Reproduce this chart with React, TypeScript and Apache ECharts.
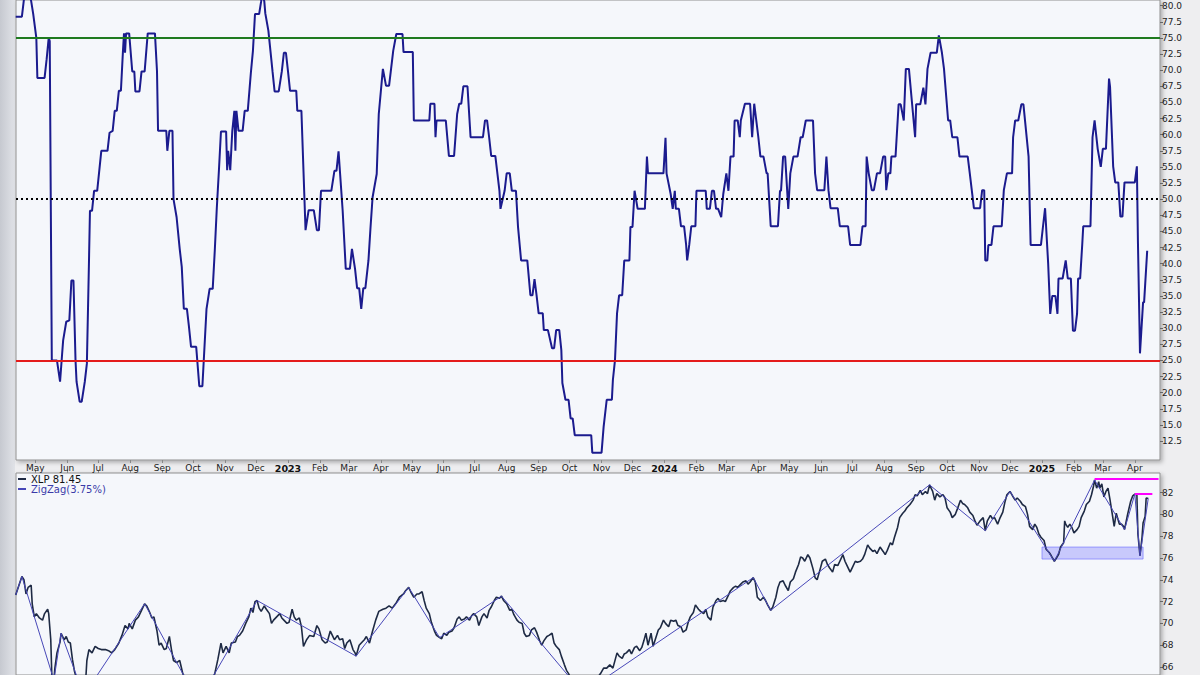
import React, { useEffect, useRef } from 'react';
import * as echarts from 'echarts';

// ---------- Top panel: breadth oscillator (percent) ----------
const breadth2022: [string, number][] = [
  ['2022-04-12',78.3],['2022-04-18',78.3],['2022-04-20',81],['2022-04-24',83],['2022-04-27',80.7],['2022-04-29',78.7],['2022-05-02',75],['2022-05-03',68.8],['2022-05-10',68.8],['2022-05-12',71.7],['2022-05-14',75],['2022-05-15',74.5],['2022-05-17',25],['2022-05-22',25],['2022-05-25',21.7],['2022-05-27',26],['2022-05-28',28.1],['2022-05-31',31],['2022-06-03',31.2],['2022-06-05',37.4],['2022-06-07',37.4],['2022-06-09',25],['2022-06-10',21.7],['2022-06-13',18.6],['2022-06-15',18.6],['2022-06-18',21.7],['2022-06-20',24.5],['2022-06-22',40],['2022-06-23',48.2],['2022-06-25',48.2],['2022-06-27',51.3],['2022-06-30',51.3],['2022-07-02',54.4],['2022-07-04',57.5],['2022-07-10',57.5],['2022-07-12',60.3],['2022-07-15',60.6],['2022-07-17',63.7],['2022-07-19',63.7],['2022-07-21',66.8],['2022-07-23',66.8],['2022-07-25',73],['2022-07-26',75.7],['2022-07-27',72.7],['2022-07-28',75.7],['2022-07-31',75.7],['2022-08-03',69.8],['2022-08-05',69.8],['2022-08-06',66.7],['2022-08-10',66.7],['2022-08-12',69.8],['2022-08-15',69.8],['2022-08-18',75.7],['2022-08-25',75.7],['2022-08-27',69.8],['2022-08-28',60.6],['2022-09-05',60.6],['2022-09-06',57.5],['2022-09-08',60.6],['2022-09-11',60.6],['2022-09-12',50],['2022-09-15',47.2],['2022-09-18',42.3],['2022-09-20',39.5],['2022-09-22',33],['2022-09-25',33],['2022-09-27',30.2],['2022-09-29',27.1],['2022-10-04',27.1],['2022-10-07',21],['2022-10-10',21],['2022-10-14',33],['2022-10-17',36.1],['2022-10-20',36.1],['2022-10-22',42],['2022-10-24',48.7],['2022-10-26',54.4],['2022-10-28',60.5],['2022-11-02',60.5],['2022-11-03',54.5],['2022-11-04',57.5],['2022-11-06',54.5],['2022-11-08',60.6],['2022-11-10',63.7],['2022-11-11',57.5],['2022-11-12',63.7],['2022-11-14',60.6],['2022-11-18',60.6],['2022-11-20',63.7],['2022-11-23',63.7],['2022-11-26',69.6],['2022-11-28',73],['2022-11-30',78.7],['2022-12-04',78.7],['2022-12-06',80.7],['2022-12-07',82],['2022-12-09',80.7],['2022-12-10',78.8],['2022-12-13',76.1],['2022-12-17',69.8],['2022-12-19',66.7],['2022-12-23',66.7],['2022-12-26',69.8],['2022-12-28',72.7],['2022-12-30',72.7]
];
const breadth2023: [string, number][] = [
  ['2023-01-01',69.8],['2023-01-03',66.8],['2023-01-09',66.8],['2023-01-10',63.7],['2023-01-14',63.7],['2023-01-17',49.8],['2023-01-18',45.2],['2023-01-21',48.3],['2023-01-26',48.3],['2023-01-29',45.2],['2023-01-31',45.2],['2023-02-02',51.3],['2023-02-12',51.3],['2023-02-15',54.4],['2023-02-17',54.4],['2023-02-19',57.4],['2023-02-23',48.2],['2023-02-26',39.2],['2023-03-02',39.2],['2023-03-04',42.3],['2023-03-07',39.2],['2023-03-09',36.2],['2023-03-11',36.2],['2023-03-13',33],['2023-03-15',36.2],['2023-03-17',36.2],['2023-03-20',40.5],['2023-03-22',45.6],['2023-03-24',50.3],['2023-03-28',53.9],['2023-03-30',63.2],['2023-04-03',70.2],['2023-04-06',67.6],['2023-04-09',67.6],['2023-04-13',73],['2023-04-16',75.6],['2023-04-22',75.6],['2023-04-23',72.8],['2023-05-02',72.8],['2023-05-03',62.2],['2023-05-18',62.2],['2023-05-19',64.8],['2023-05-23',64.8],['2023-05-24',59.6],['2023-05-25',62.2],['2023-06-03',62.2],['2023-06-06',56.7],['2023-06-11',56.7],['2023-06-14',63.2],['2023-06-16',64.8],['2023-06-18',64.8],['2023-06-20',67.5],['2023-06-24',67.5],['2023-06-27',59.6],['2023-07-09',59.6],['2023-07-11',62.2],['2023-07-13',62.2],['2023-07-15',59.6],['2023-07-17',56.7],['2023-07-21',56.7],['2023-07-23',54],['2023-07-25',51.3],['2023-07-26',48.5],['2023-07-30',51.3],['2023-08-01',54],['2023-08-04',54],['2023-08-06',51.3],['2023-08-10',51.3],['2023-08-12',45.7],['2023-08-15',40.5],['2023-08-21',40.5],['2023-08-24',35.1],['2023-08-26',35.1],['2023-08-28',37.6],['2023-08-30',35.1],['2023-09-01',32.3],['2023-09-05',32.3],['2023-09-06',29.7],['2023-09-10',29.7],['2023-09-14',26.9],['2023-09-16',26.9],['2023-09-18',29.7],['2023-09-21',29.7],['2023-09-23',26.6],['2023-09-24',21.5],['2023-09-27',18.9],['2023-09-30',18.9],['2023-10-02',16],['2023-10-04',16],['2023-10-06',13.4],['2023-10-22',13.4],['2023-10-23',10.7],['2023-11-01',10.7],['2023-11-03',14.7],['2023-11-06',18.9],['2023-11-11',18.9],['2023-11-12',22],['2023-11-14',25],['2023-11-16',32.3],['2023-11-18',35.1],['2023-11-21',35.1],['2023-11-23',40.5],['2023-11-28',40.5],['2023-11-29',45.7],['2023-12-01',45.7],['2023-12-03',51.3],['2023-12-06',48.5],['2023-12-13',48.5],['2023-12-15',56.6],['2023-12-16',54],['2023-12-31',54]
];
const breadth2024: [string, number][] = [
  ['2024-01-02',59.5],['2024-01-03',54],['2024-01-07',50.8],['2024-01-09',48.5],['2024-01-11',51.3],['2024-01-12',48.5],['2024-01-15',48.5],['2024-01-17',45.8],['2024-01-20',45.8],['2024-01-22',42.9],['2024-01-23',40.5],['2024-01-25',42.9],['2024-01-27',45.8],['2024-01-31',45.8],['2024-02-01',51.3],['2024-02-10',51.3],['2024-02-11',48.5],['2024-02-14',48.5],['2024-02-16',51.3],['2024-02-18',51.3],['2024-02-20',48.5],['2024-02-22',48.5],['2024-02-25',47.2],['2024-02-27',50.8],['2024-03-01',54],['2024-03-03',51.3],['2024-03-05',56.6],['2024-03-08',56.6],['2024-03-09',62.2],['2024-03-12',62.2],['2024-03-14',59.6],['2024-03-15',62.2],['2024-03-19',64.8],['2024-03-24',64.8],['2024-03-26',59.6],['2024-03-28',64.8],['2024-04-01',59.6],['2024-04-03',56.6],['2024-04-06',56.6],['2024-04-09',54],['2024-04-10',54],['2024-04-13',45.8],['2024-04-20',45.8],['2024-04-22',51.3],['2024-04-23',51.3],['2024-04-25',56.6],['2024-04-27',56.6],['2024-04-30',48.5],['2024-05-02',54],['2024-05-05',56.6],['2024-05-09',56.6],['2024-05-12',59.6],['2024-05-14',59.6],['2024-05-17',62.2],['2024-05-24',62.2],['2024-05-26',54],['2024-05-28',51.4],['2024-06-04',51.4],['2024-06-06',56.6],['2024-06-08',51.4],['2024-06-10',48.6],['2024-06-17',48.6],['2024-06-19',45.8],['2024-06-27',45.8],['2024-06-29',42.9],['2024-07-09',42.9],['2024-07-11',45.8],['2024-07-14',45.8],['2024-07-15',56.6],['2024-07-17',54],['2024-07-20',51.4],['2024-07-22',51.4],['2024-07-25',54],['2024-07-28',54],['2024-07-31',56.6],['2024-08-02',56.6],['2024-08-03',51.4],['2024-08-05',54],['2024-08-07',54],['2024-08-08',56.6],['2024-08-12',56.6],['2024-08-15',64.7],['2024-08-17',64.7],['2024-08-20',62.2],['2024-08-22',70.2],['2024-08-25',70.2],['2024-08-31',59.6],['2024-09-01',64.7],['2024-09-05',64.7],['2024-09-08',67.3],['2024-09-10',64.7],['2024-09-12',70.2],['2024-09-15',72.7],['2024-09-21',72.7],['2024-09-23',75.4],['2024-09-26',72.7],['2024-09-28',70.2],['2024-10-02',62.2],['2024-10-04',62.2],['2024-10-06',59.6],['2024-10-11',59.6],['2024-10-13',56.6],['2024-10-21',56.6],['2024-10-23',54],['2024-10-27',48.6],['2024-11-02',48.6],['2024-11-04',51.4],['2024-11-06',51.4],['2024-11-07',40.5],['2024-11-09',40.5],['2024-11-10',42.9],['2024-11-13',42.9],['2024-11-15',45.8],['2024-11-23',45.8],['2024-11-25',51.4],['2024-11-28',54],['2024-12-03',54],['2024-12-04',59.6],['2024-12-06',62.2],['2024-12-09',62.2],['2024-12-12',64.7],['2024-12-14',64.7],['2024-12-19',56.6],['2024-12-21',42.9],['2024-12-31',42.9]
];
const breadth2025: [string, number][] = [
  ['2025-01-02',45.8],['2025-01-04',48.6],['2025-01-07',40],['2025-01-09',32.2],['2025-01-11',35],['2025-01-14',35],['2025-01-16',32.2],['2025-01-17',37.7],['2025-01-21',37.7],['2025-01-24',40.5],['2025-01-26',37.7],['2025-01-29',37.7],['2025-01-31',29.6],['2025-02-02',29.6],['2025-02-04',32.2],['2025-02-05',37.7],['2025-02-07',37.7],['2025-02-09',42.9],['2025-02-10',45.8],['2025-02-17',45.8],['2025-02-19',59.6],['2025-02-21',62.2],['2025-02-24',57.8],['2025-02-27',55],['2025-03-01',57.8],['2025-03-04',57.8],['2025-03-07',68.7],['2025-03-08',67.4],['2025-03-11',55.1],['2025-03-13',52.6],['2025-03-16',52.6],['2025-03-18',47.3],['2025-03-20',47.3],['2025-03-22',52.6],['2025-04-01',52.6],['2025-04-03',55.1],['2025-04-04',43.6],['2025-04-06',26.1],['2025-04-09',34],['2025-04-10',34],['2025-04-13',42]
];
const breadthLevels = { overbought: 75, middle: 50, oversold: 25 };
const breadthTicks = [12.5, 15, 17.5, 20, 22.5, 25, 27.5, 30, 32.5, 35, 37.5, 40, 42.5, 45, 47.5, 50, 52.5, 55, 57.5, 60, 62.5, 65, 67.5, 70, 72.5, 75, 77.5, 80];

// ---------- Bottom panel: XLP price ----------
const xlp2022: [string, number][] = [
  ['2022-04-12',72.6],['2022-04-18',74.3],['2022-04-20',74.0],['2022-04-22',72.7],['2022-04-24',73.3],['2022-04-27',73.5],['2022-04-28',71.8],['2022-04-30',70.6],['2022-05-02',70.9],['2022-05-05',70.5],['2022-05-08',70.3],['2022-05-10',70.9],['2022-05-13',71.3],['2022-05-14',70.9],['2022-05-16',68.5],['2022-05-17',65.3],['2022-05-19',64.8],['2022-05-20',65.9],['2022-05-22',67.3],['2022-05-25',68.3],['2022-05-26',69.1],['2022-05-29',68.5],['2022-05-31',68.8],['2022-06-02',68.3],['2022-06-04',68.2],['2022-06-06',66.7],['2022-06-08',65.6],['2022-06-11',64.6],['2022-06-13',63.9],['2022-06-17',63.4],['2022-06-19',65.0],['2022-06-20',66.6],['2022-06-22',67.6],['2022-06-25',67.3],['2022-06-28',67.9],['2022-07-01',67.7],['2022-07-04',67.6],['2022-07-08',67.6],['2022-07-11',67.5],['2022-07-14',67.3],['2022-07-17',67.6],['2022-07-21',68.2],['2022-07-24',68.9],['2022-07-27',69.8],['2022-07-30',69.5],['2022-07-31',70.0],['2022-08-03',69.5],['2022-08-06',70.3],['2022-08-09',70.6],['2022-08-12',71.2],['2022-08-14',71.6],['2022-08-15',71.8],['2022-08-17',71.6],['2022-08-20',71.0],['2022-08-22',70.5],['2022-08-24',70.6],['2022-08-27',69.3],['2022-08-29',68.0],['2022-08-31',68.2],['2022-09-03',67.6],['2022-09-05',67.7],['2022-09-08',68.8],['2022-09-10',67.6],['2022-09-12',66.6],['2022-09-15',66.4],['2022-09-18',66.6],['2022-09-20',65.8],['2022-09-21',65.4],['2022-09-26',64.5],['2022-09-30',63.3],['2022-10-06',62.8],['2022-10-13',63.0],['2022-10-17',64.2],['2022-10-22',65.4],['2022-10-25',66.7],['2022-10-28',68.2],['2022-10-30',67.3],['2022-11-02',67.9],['2022-11-05',67.3],['2022-11-07',68.2],['2022-11-11',68.3],['2022-11-13',68.8],['2022-11-15',68.9],['2022-11-18',69.3],['2022-11-21',70.0],['2022-11-24',70.6],['2022-11-26',71.4],['2022-11-28',71.0],['2022-11-30',72.0],['2022-12-02',72.1],['2022-12-04',71.4],['2022-12-06',71.1],['2022-12-09',71.6],['2022-12-11',71.3],['2022-12-14',70.9],['2022-12-16',70.0],['2022-12-18',70.3],['2022-12-21',70.6],['2022-12-24',70.9],['2022-12-26',70.5],['2022-12-28',70.3],['2022-12-31',70.0]
];
const xlp2023: [string, number][] = [
  ['2023-01-02',70.1],['2023-01-05',71.3],['2023-01-07',70.6],['2023-01-09',70.3],['2023-01-12',70.5],['2023-01-14',69.7],['2023-01-16',67.9],['2023-01-19',68.5],['2023-01-22',68.9],['2023-01-26',68.8],['2023-01-29',69.8],['2023-01-31',69.5],['2023-02-03',68.5],['2023-02-06',68.2],['2023-02-08',68.3],['2023-02-11',69.3],['2023-02-13',68.9],['2023-02-15',68.5],['2023-02-18',68.9],['2023-02-20',68.5],['2023-02-23',68.6],['2023-02-25',67.7],['2023-02-27',68.2],['2023-03-02',68.5],['2023-03-05',67.6],['2023-03-07',67.3],['2023-03-08',67.0],['2023-03-11',68.0],['2023-03-13',68.2],['2023-03-16',68.5],['2023-03-18',68.8],['2023-03-21',68.2],['2023-03-24',69.3],['2023-03-27',70.3],['2023-03-30',71.1],['2023-04-03',71.3],['2023-04-06',71.4],['2023-04-09',71.6],['2023-04-12',71.4],['2023-04-16',71.9],['2023-04-19',72.4],['2023-04-23',72.7],['2023-04-25',73.0],['2023-04-28',73.3],['2023-04-30',72.9],['2023-05-03',72.4],['2023-05-06',72.7],['2023-05-08',72.7],['2023-05-11',72.9],['2023-05-13',72.1],['2023-05-15',71.4],['2023-05-18',70.9],['2023-05-20',70.1],['2023-05-23',69.3],['2023-05-25',68.9],['2023-05-28',68.7],['2023-05-30',68.6],['2023-06-01',69.1],['2023-06-04',68.9],['2023-06-06',69.2],['2023-06-09',69.3],['2023-06-11',69.6],['2023-06-14',70.4],['2023-06-16',70.6],['2023-06-18',70.3],['2023-06-21',70.4],['2023-06-23',70.6],['2023-06-26',70.3],['2023-06-28',70.7],['2023-06-30',70.9],['2023-07-03',70.6],['2023-07-05',69.8],['2023-07-08',70.6],['2023-07-10',70.9],['2023-07-13',70.5],['2023-07-15',71.2],['2023-07-17',71.5],['2023-07-20',72.1],['2023-07-22',72.4],['2023-07-25',72.3],['2023-07-27',72.5],['2023-07-29',72.1],['2023-08-01',71.8],['2023-08-04',71.2],['2023-08-06',71.3],['2023-08-08',70.8],['2023-08-11',70.3],['2023-08-13',70.1],['2023-08-16',70.0],['2023-08-18',69.1],['2023-08-20',68.8],['2023-08-23',68.9],['2023-08-25',69.4],['2023-08-28',69.6],['2023-08-30',69.2],['2023-09-02',68.4],['2023-09-04',68.0],['2023-09-06',68.4],['2023-09-09',68.8],['2023-09-11',68.9],['2023-09-14',69.1],['2023-09-16',68.2],['2023-09-18',67.9],['2023-09-21',67.6],['2023-09-23',67.0],['2023-09-26',66.2],['2023-09-28',65.7],['2023-09-30',65.4],['2023-10-05',64.4],['2023-10-14',63.6],['2023-10-20',64.3],['2023-10-26',64.8],['2023-10-31',65.4],['2023-11-03',65.9],['2023-11-06',65.9],['2023-11-09',66.2],['2023-11-12',65.9],['2023-11-16',67.3],['2023-11-18',67.0],['2023-11-21',66.8],['2023-11-23',67.2],['2023-11-25',67.3],['2023-11-28',67.6],['2023-11-30',67.2],['2023-12-03',67.8],['2023-12-05',67.9],['2023-12-08',67.5],['2023-12-10',67.8],['2023-12-12',68.4],['2023-12-14',69.1],['2023-12-16',68.0],['2023-12-19',69.1],['2023-12-21',67.9],['2023-12-24',68.8],['2023-12-26',69.4],['2023-12-28',69.6],['2023-12-31',70.3]
];
const xlp2024: [string, number][] = [
  ['2024-01-02',70.0],['2024-01-05',69.7],['2024-01-07',70.3],['2024-01-10',70.2],['2024-01-12',70.3],['2024-01-14',69.8],['2024-01-17',69.7],['2024-01-19',69.2],['2024-01-22',69.4],['2024-01-24',70.1],['2024-01-26',70.6],['2024-01-29',71.0],['2024-01-31',71.7],['2024-02-03',71.3],['2024-02-05',71.1],['2024-02-08',70.9],['2024-02-10',71.3],['2024-02-12',70.6],['2024-02-15',70.3],['2024-02-17',71.5],['2024-02-20',72.1],['2024-02-22',72.3],['2024-02-24',72.0],['2024-02-27',72.1],['2024-02-29',72.0],['2024-03-03',72.6],['2024-03-05',73.0],['2024-03-08',73.3],['2024-03-10',73.4],['2024-03-12',73.3],['2024-03-15',73.6],['2024-03-17',73.8],['2024-03-20',73.9],['2024-03-22',73.6],['2024-03-24',73.8],['2024-03-27',74.2],['2024-03-29',73.8],['2024-03-31',72.4],['2024-04-03',72.1],['2024-04-06',72.4],['2024-04-08',72.1],['2024-04-10',71.7],['2024-04-13',71.2],['2024-04-15',71.5],['2024-04-18',72.4],['2024-04-20',73.3],['2024-04-22',73.8],['2024-04-25',73.9],['2024-04-27',73.5],['2024-04-30',73.0],['2024-05-02',73.8],['2024-05-05',74.1],['2024-05-07',74.7],['2024-05-10',75.4],['2024-05-12',76.1],['2024-05-14',76.0],['2024-05-16',75.7],['2024-05-19',76.3],['2024-05-21',76.0],['2024-05-24',75.0],['2024-05-26',74.2],['2024-05-28',74.0],['2024-05-31',75.0],['2024-06-02',75.7],['2024-06-05',75.9],['2024-06-07',75.4],['2024-06-09',75.1],['2024-06-12',74.7],['2024-06-14',75.4],['2024-06-17',75.3],['2024-06-19',75.7],['2024-06-22',76.3],['2024-06-24',75.7],['2024-06-26',75.3],['2024-06-29',74.7],['2024-07-01',75.1],['2024-07-04',75.7],['2024-07-06',75.6],['2024-07-09',75.7],['2024-07-11',75.9],['2024-07-13',76.3],['2024-07-16',77.2],['2024-07-18',76.9],['2024-07-21',76.6],['2024-07-23',76.7],['2024-07-25',76.4],['2024-07-28',77.0],['2024-07-31',76.6],['2024-08-02',76.3],['2024-08-04',76.7],['2024-08-07',77.4],['2024-08-09',77.2],['2024-08-11',77.9],['2024-08-14',78.8],['2024-08-16',79.7],['2024-08-19',80.1],['2024-08-21',80.3],['2024-08-23',80.6],['2024-08-26',80.9],['2024-08-29',81.3],['2024-08-31',81.8],['2024-09-02',81.7],['2024-09-05',82.2],['2024-09-07',81.8],['2024-09-10',82.1],['2024-09-12',81.9],['2024-09-14',82.7],['2024-09-17',82.1],['2024-09-19',81.3],['2024-09-21',81.9],['2024-09-24',81.6],['2024-09-27',81.8],['2024-09-29',81.5],['2024-10-01',80.6],['2024-10-04',80.2],['2024-10-06',79.7],['2024-10-09',80.0],['2024-10-11',80.5],['2024-10-14',81.3],['2024-10-16',81.0],['2024-10-18',80.9],['2024-10-21',80.6],['2024-10-23',80.2],['2024-10-26',79.9],['2024-10-28',79.4],['2024-10-30',79.0],['2024-11-02',79.4],['2024-11-05',79.7],['2024-11-07',78.5],['2024-11-09',79.4],['2024-11-12',79.9],['2024-11-14',79.6],['2024-11-16',79.7],['2024-11-19',79.1],['2024-11-21',79.6],['2024-11-24',80.2],['2024-11-26',81.1],['2024-11-28',81.8],['2024-12-01',82.1],['2024-12-04',81.6],['2024-12-06',81.3],['2024-12-08',81.5],['2024-12-11',81.2],['2024-12-13',80.9],['2024-12-16',80.7],['2024-12-18',80.0],['2024-12-20',78.9],['2024-12-23',78.6],['2024-12-25',79.1],['2024-12-27',78.8],['2024-12-29',78.2],['2024-12-31',77.9]
];
const xlp2025: [string, number][] = [
  ['2025-01-03',77.6],['2025-01-05',76.8],['2025-01-08',76.5],['2025-01-10',76.2],['2025-01-13',75.7],['2025-01-15',76.0],['2025-01-17',76.3],['2025-01-19',77.0],['2025-01-22',77.4],['2025-01-23',79.4],['2025-01-24',79.1],['2025-01-26',78.8],['2025-01-28',79.1],['2025-01-30',78.8],['2025-02-01',78.3],['2025-02-04',78.6],['2025-02-06',78.9],['2025-02-08',79.7],['2025-02-11',80.3],['2025-02-13',80.9],['2025-02-16',81.2],['2025-02-18',81.8],['2025-02-20',82.6],['2025-02-21',83.15],['2025-02-23',82.4],['2025-02-25',83.0],['2025-02-26',82.4],['2025-02-28',82.8],['2025-03-02',81.6],['2025-03-04',82.1],['2025-03-06',82.4],['2025-03-08',81.3],['2025-03-10',80.1],['2025-03-12',78.9],['2025-03-14',80.1],['2025-03-17',79.1],['2025-03-19',79.1],['2025-03-21',78.9],['2025-03-22',78.6],['2025-03-25',80.0],['2025-03-28',81.2],['2025-03-30',81.7],['2025-04-01',81.85],['2025-04-03',81.8],['2025-04-04',78.2],['2025-04-06',76.2],['2025-04-08',77.9],['2025-04-09',79.2],['2025-04-11',79.8],['2025-04-12',81.5],['2025-04-14',81.45]
];
const zigzagPivots: [string, number][] = [
  ['2022-04-12',72.6],['2022-04-18',74.3],['2022-05-19',64.8],['2022-05-26',69.1],['2022-06-17',63.4],['2022-08-15',71.8],['2022-10-06',62.8],['2022-12-02',72.1],['2023-03-08',67.0],['2023-04-28',73.3],['2023-05-28',68.7],['2023-07-27',72.5],['2023-10-14',63.6],['2024-03-27',74.2],['2024-04-13',71.2],['2024-09-14',82.7],['2024-11-07',78.5],['2024-12-01',82.1],['2025-01-13',75.7],['2025-02-21',83.15],['2025-03-22',78.6],['2025-04-01',81.85],['2025-04-06',76.2],['2025-04-14',81.45]
];
const resistanceLines = [
  { from: '2025-02-21', to: '2025-04-24', value: 83.3 },
  { from: '2025-04-01', to: '2025-04-18', value: 81.9 }
];
const supportZone = { from: '2025-01-01', to: '2025-04-09', low: 75.9, high: 77.0 };
const priceTicks = [66, 68, 70, 72, 74, 76, 78, 80, 82];
const monthNames = ['Jan', 'Feb', 'Mar', 'Apr', 'May', 'Jun', 'Jul', 'Aug', 'Sep', 'Oct', 'Nov', 'Dec'];
const zigzagLabel = 'ZigZag(3.75%)';

const ts = (s: string) => new Date(s + 'T00:00:00').getTime();
const toSeries = (rows: [string, number][]) => rows.map(([d, v]) => [ts(d), v]);

const FONT = 'DejaVu Sans';

export default function App() {
  const ref = useRef<HTMLDivElement>(null);
  useEffect(() => {
    document.body.style.margin = '0';
    if (!ref.current) return;
    const chart = echarts.init(ref.current, undefined, { renderer: 'svg' });

    const axisMin = new Date(2022, 3, 12, 7).getTime();
    const axisMax = new Date(2025, 3, 25, 10).getTime();
    const monthTicks: number[] = [];
    for (let y = 2022; y <= 2025; y++) {
      for (let m = 0; m < 12; m++) {
        const t = new Date(y, m, 1).getTime();
        if (t >= axisMin && t <= axisMax) monthTicks.push(t);
      }
    }
    const breadth = [...breadth2022, ...breadth2023, ...breadth2024, ...breadth2025];
    const xlp = [...xlp2022, ...xlp2023, ...xlp2024, ...xlp2025];
    const lastPrice = xlp[xlp.length - 1][1];

    const monthFormatter = (v: number) => {
      const d = new Date(v);
      return d.getMonth() === 0 ? `{y|${d.getFullYear()}}` : monthNames[d.getMonth()];
    };

    const gridBase = {
      show: true,
      backgroundColor: '#f5f7fb',
      borderColor: '#8f8f8f',
      borderWidth: 1,
      shadowColor: 'rgba(0,0,0,0.28)',
      shadowBlur: 4,
      shadowOffsetX: 2,
      shadowOffsetY: 2,
      left: 16,
      right: 40
    };

    chart.setOption({
      animation: false,
      textStyle: { fontFamily: FONT },
      grid: [
        { ...gridBase, top: -1, height: 461 },
        { ...gridBase, top: 473, height: 204 }
      ],
      legend: {
        left: 18,
        top: 474,
        orient: 'vertical',
        itemWidth: 8,
        itemHeight: 2,
        itemGap: 0,
        padding: 0,
        selectedMode: false,
        icon: 'rect',
        textStyle: { fontSize: 10, fontFamily: FONT },
        data: [
          { name: 'XLP', textStyle: { color: '#111' } },
          { name: 'ZigZag', textStyle: { color: '#3a3aa8' } }
        ],
        formatter: (name: string) => (name === 'XLP' ? `XLP ${lastPrice.toFixed(2)}` : zigzagLabel)
      },
      xAxis: [
        {
          type: 'value', gridIndex: 0, min: axisMin, max: axisMax, position: 'bottom', scale: true,
          axisLine: { show: false },
          splitLine: { show: false },
          axisTick: { show: true, customValues: monthTicks, length: 3, lineStyle: { color: '#888' } },
          axisLabel: {
            customValues: monthTicks, formatter: monthFormatter, margin: 3,
            fontSize: 9, color: '#222', fontFamily: FONT,
            rich: { y: { fontWeight: 'bold', fontSize: 9.5, color: '#111', fontFamily: FONT } }
          }
        },
        {
          type: 'value', gridIndex: 1, min: axisMin, max: axisMax, position: 'top', scale: true,
          axisLine: { show: false },
          splitLine: { show: false },
          axisTick: { show: true, customValues: monthTicks, length: 3, lineStyle: { color: '#888' } },
          axisLabel: { show: false }
        }
      ],
      yAxis: [
        {
          type: 'value', gridIndex: 0, position: 'right', min: 9.56, max: 80.88,
          axisLine: { show: false },
          splitLine: { show: false },
          axisTick: { show: true, customValues: breadthTicks, length: 3, lineStyle: { color: '#666' } },
          axisLabel: {
            customValues: breadthTicks, formatter: (v: number) => v.toFixed(1),
            margin: 2, fontSize: 9, color: '#222', fontFamily: FONT
          }
        },
        {
          type: 'value', gridIndex: 1, position: 'right', min: 65.27, max: 83.79,
          axisLine: { show: false },
          splitLine: { show: false },
          axisTick: { show: true, customValues: priceTicks, length: 3, lineStyle: { color: '#666' } },
          axisLabel: {
            customValues: priceTicks, formatter: (v: number) => String(v),
            margin: 2, fontSize: 9, color: '#222', fontFamily: FONT
          }
        }
      ],
      series: [
        {
          name: 'Breadth', type: 'line', xAxisIndex: 0, yAxisIndex: 0,
          data: toSeries(breadth), showSymbol: false, symbol: 'none', clip: true, z: 3,
          lineStyle: { color: '#1b1b8e', width: 2 },
          markLine: {
            silent: true, symbol: ['none', 'none'], label: { show: false }, animation: false,
            data: [
              { yAxis: breadthLevels.overbought, lineStyle: { color: '#1f7a1f', width: 2, type: 'solid' } },
              { yAxis: breadthLevels.middle, lineStyle: { color: '#000', width: 2, type: [2, 3] } },
              { yAxis: breadthLevels.oversold, lineStyle: { color: '#e41b1b', width: 2, type: 'solid' } }
            ]
          }
        },
        {
          name: 'XLP', type: 'line', xAxisIndex: 1, yAxisIndex: 1,
          data: toSeries(xlp), showSymbol: false, symbol: 'none', clip: true, z: 3,
          itemStyle: { color: '#1e2a44' },
          lineStyle: { color: '#1e2a44', width: 1.6 },
          markArea: {
            silent: true,
            itemStyle: { color: 'rgba(105,105,255,0.32)', borderColor: 'rgba(105,105,255,0.6)', borderWidth: 1 },
            data: [[
              { coord: [ts(supportZone.from), supportZone.high] },
              { coord: [ts(supportZone.to), supportZone.low] }
            ]]
          },
          markLine: {
            silent: true, symbol: ['none', 'none'], label: { show: false }, animation: false,
            lineStyle: { color: '#ff00ff', width: 2, type: 'solid' },
            data: resistanceLines.map((r) => [
              { coord: [ts(r.from), r.value] },
              { coord: [ts(r.to), r.value] }
            ])
          }
        },
        {
          name: 'ZigZag', type: 'line', xAxisIndex: 1, yAxisIndex: 1,
          data: toSeries(zigzagPivots), showSymbol: false, symbol: 'none', clip: true, z: 4,
          itemStyle: { color: '#4848b8' },
          lineStyle: { color: '#4848b8', width: 1 }
        }
      ]
    });
    return () => chart.dispose();
  }, []);
  return (
    <div
      ref={ref}
      style={{
        width: 1200,
        height: 675,
        background: 'linear-gradient(to right, #c6c9d0 0px, #e1e3e8 15px, #eeeef0 15px, #eeeef0 100%)'
      }}
    />
  );
}
